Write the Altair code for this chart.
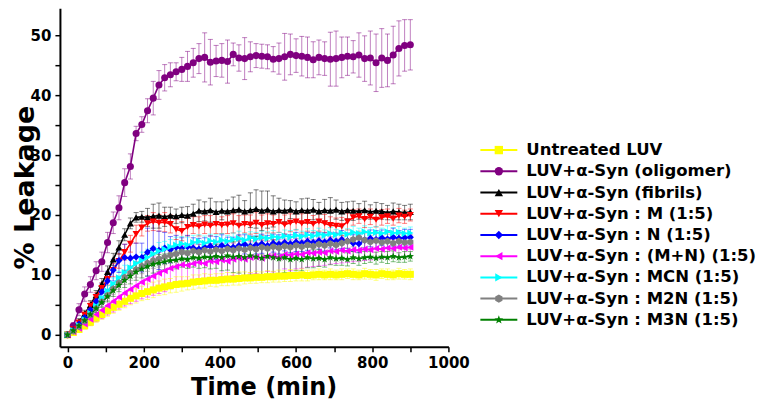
import altair as alt
import pandas as pd

# ---------------- data ----------------
times = list(range(0, 901, 15))

series_names = [
    "Untreated LUV",
    "LUV+α-Syn (oligomer)",
    "LUV+α-Syn (fibrils)",
    "LUV+α-Syn : M (1:5)",
    "LUV+α-Syn : N (1:5)",
    "LUV+α-Syn : (M+N) (1:5)",
    "LUV+α-Syn : MCN (1:5)",
    "LUV+α-Syn : M2N (1:5)",
    "LUV+α-Syn : M3N (1:5)",
]

untreated = [0.0, 0.4, 0.9, 1.5, 2.1, 2.8, 3.4, 4.0, 4.6, 5.1,
             5.6, 6.1, 6.5, 6.9, 7.2, 7.5, 7.8, 8.0, 8.2, 8.4,
             8.5, 8.6, 8.8, 8.9, 9.0, 9.1, 9.1, 9.2, 9.3, 9.3,
             9.4, 9.5, 9.5, 9.6, 9.6, 9.7, 9.7, 9.8, 9.8, 9.9,
             9.9, 10.0, 9.9, 10.0, 10.1, 10.0, 10.1, 10.0, 10.1, 10.2,
             10.1, 10.0, 10.2, 10.1, 10.0, 10.2, 10.1, 10.0, 10.2, 10.1,
             10.1]
untreated_err = [0.2, 0.3, 0.4, 0.5, 0.6, 0.7, 0.8, 0.9, 1.0, 1.0,
                 1.1, 1.1, 1.2, 1.2, 1.3, 1.3, 1.2, 1.3, 1.2, 1.3,
                 1.2, 1.1, 1.2, 1.1, 1.2, 1.0, 1.1, 1.0, 1.1, 1.0,
                 1.1, 1.0, 0.9, 1.0, 0.9, 1.0, 0.9, 1.0, 0.9, 1.0,
                 0.9, 1.0, 0.9, 0.8, 0.9, 0.8, 0.9, 0.8, 0.9, 0.8,
                 0.9, 0.8, 0.9, 0.8, 0.9, 0.8, 0.9, 0.8, 0.9, 0.8,
                 0.9]

oligomer = [0.0, 1.5, 4.2, 6.8, 8.4, 10.7, 12.2, 15.4, 18.7, 21.2,
            25.4, 28.1, 33.6, 35.1, 37.4, 39.5, 41.7, 42.9, 43.4, 43.9,
            44.3, 44.8, 45.4, 46.1, 46.3, 45.5, 45.7, 45.8, 45.6, 46.8,
            46.2, 46.1, 46.4, 46.6, 46.5, 46.4, 46.0, 46.1, 46.4, 46.8,
            46.6, 46.5, 46.3, 45.9, 46.3, 46.1, 46.0, 46.1, 46.3, 46.5,
            46.4, 46.7, 46.1, 46.2, 45.4, 46.2, 45.8, 46.7, 47.8, 48.3,
            48.4]
oligomer_err = [0.3, 0.5, 1.0, 1.2, 1.3, 1.5, 1.6, 1.7, 1.8, 2.0,
                2.3, 2.1, 1.2, 1.3, 2.0, 2.8, 2.4, 2.2, 2.0, 1.5,
                2.0, 2.5, 2.4, 2.5, 4.1, 3.8, 2.6, 2.8, 3.6, 1.9,
                2.2, 3.5, 2.5, 2.0, 2.0, 2.0, 2.1, 2.6, 3.9, 3.4,
                2.8, 3.3, 3.4, 3.0, 2.9, 2.8, 4.5, 4.6, 3.4, 3.2,
                2.7, 3.7, 3.8, 4.5, 4.8, 4.9, 4.4, 4.8, 4.6, 4.3,
                4.2]

fibrils = [0.0, 1.0, 2.2, 3.5, 5.0, 6.6, 8.5, 10.5, 12.6, 14.6,
           16.7, 18.6, 19.6, 19.7, 19.6, 19.8, 19.9, 19.7, 19.9, 19.8,
           20.0, 19.9, 20.2, 20.7, 20.6, 20.8, 20.5, 20.7, 20.6, 20.8,
           20.9, 20.6, 20.8, 21.0, 20.7, 20.9, 20.6, 20.8, 20.7, 20.9,
           20.6, 20.8, 20.7, 20.9, 20.6, 20.8, 20.7, 20.9, 20.6, 20.8,
           20.7, 20.6, 20.8, 20.5, 20.7, 20.6, 20.4, 20.6, 20.5, 20.4,
           20.5]
fibrils_err = [0.2, 0.4, 0.5, 0.6, 0.7, 0.8, 0.9, 1.0, 1.0, 1.1,
               1.0, 0.9, 0.8, 0.9, 1.5, 2.0, 2.1, 1.6, 1.4, 1.2,
               1.3, 1.5, 1.6, 1.8, 1.6, 2.0, 1.7, 1.5, 1.9, 2.2,
               2.4, 1.8, 2.9, 3.2, 3.3, 3.1, 2.6, 2.0, 1.8, 1.5,
               1.6, 1.9, 2.1, 1.7, 1.5, 1.8, 2.2, 1.6, 1.5, 1.4,
               1.6, 1.3, 1.5, 1.2, 1.4, 1.3, 1.2, 1.4, 1.3, 1.2,
               1.3]

m_15 = [0.0, 0.9, 2.0, 3.3, 4.8, 6.3, 7.8, 9.3, 10.8, 12.3,
        13.8, 15.2, 16.8, 17.9, 18.6, 18.9, 18.7, 18.8, 18.5, 17.6,
        17.3, 18.0, 18.3, 18.1, 18.4, 18.2, 18.5, 18.3, 18.4, 18.6,
        18.2, 18.5, 18.4, 18.7, 18.3, 18.6, 18.5, 18.8, 18.4, 18.7,
        18.9, 18.6, 18.8, 18.5, 18.9, 18.6, 18.3, 18.2, 18.1, 18.9,
        19.6, 19.8, 19.3, 19.7, 19.2, 19.6, 19.8, 19.4, 19.9, 19.7,
        20.0]
m_15_err = [0.2, 0.3, 0.5, 0.6, 0.7, 0.8, 0.9, 1.0, 1.1, 1.2,
            1.3, 1.4, 1.5, 1.4, 1.3, 1.5, 1.4, 1.6, 1.5, 1.7,
            1.6, 1.5, 1.4, 1.6, 1.5, 1.7, 1.6, 1.4, 1.5, 1.6,
            1.7, 1.5, 1.6, 1.8, 1.7, 1.6, 1.5, 1.7, 1.6, 1.5,
            1.4, 1.6, 1.5, 1.4, 1.6, 1.5, 1.4, 1.3, 1.5, 1.4,
            1.3, 1.2, 1.4, 1.3, 1.2, 1.3, 1.2, 1.1, 1.2, 1.1,
            1.0]

n_15 = [0.0, 0.8, 1.8, 2.9, 4.2, 5.6, 7.2, 9.0, 10.8, 12.4,
        12.9, 12.8, 13.0, 12.9, 13.8, 14.4, 14.1, 14.5, 14.2, 14.6,
        14.4, 14.7, 14.5, 14.3, 14.6, 14.8, 14.5, 14.9, 14.7, 14.6,
        14.9, 15.1, 14.8, 15.0, 15.2, 14.9, 15.3, 15.1, 15.4, 15.2,
        15.5, 15.3, 15.6, 15.4, 15.7, 15.5, 15.8, 15.6, 15.9, 15.7,
        15.3, 15.2, 15.8, 16.1, 15.9, 16.2, 16.0, 16.3, 16.1, 16.2,
        16.3]
n_15_err = [0.2, 0.4, 0.6, 0.8, 1.0, 1.2, 1.4, 1.6, 1.8, 2.0,
            2.2, 2.5, 2.3, 2.4, 4.0, 4.5, 3.2, 2.6, 2.2, 2.0,
            1.8, 1.9, 1.7, 1.8, 1.6, 1.7, 1.9, 1.8, 1.6, 1.7,
            1.8, 1.6, 1.7, 1.5, 1.6, 1.7, 1.5, 1.6, 1.4, 1.5,
            1.6, 1.4, 1.5, 1.6, 1.4, 1.5, 1.3, 1.4, 1.5, 1.3,
            1.4, 1.5, 1.3, 1.4, 1.5, 1.3, 1.4, 1.5, 1.3, 1.4,
            1.3]

mn_15 = [0.0, 0.5, 1.1, 1.8, 2.6, 3.4, 4.1, 4.9, 5.6, 6.3,
         7.0, 7.6, 8.2, 8.8, 9.3, 9.8, 10.3, 10.7, 11.1, 11.4,
         11.7, 11.6, 11.9, 12.1, 11.9, 12.3, 12.2, 12.5, 12.3, 12.6,
         12.8, 12.6, 12.9, 13.0, 12.8, 13.1, 13.2, 13.0, 13.4, 13.3,
         13.5, 13.4, 13.7, 13.6, 13.8, 13.7, 14.0, 13.9, 14.1, 14.0,
         14.2, 14.1, 14.3, 14.2, 14.4, 14.3, 14.5, 14.4, 14.6, 14.5,
         14.6]
mn_15_err = [0.2, 0.4, 0.6, 0.8, 1.0, 1.2, 1.4, 1.6, 1.8, 2.0,
             2.2, 2.4, 2.6, 2.8, 3.0, 3.2, 3.4, 3.5, 3.4, 3.3,
             3.2, 3.4, 3.1, 3.0, 3.3, 2.9, 3.1, 2.8, 3.0, 2.7,
             2.9, 3.2, 2.6, 2.8, 3.0, 2.5, 2.7, 2.9, 2.4, 2.6,
             2.5, 2.3, 2.4, 2.2, 2.3, 2.1, 2.2, 2.0, 2.1, 1.9,
             2.0, 1.8, 1.9, 1.7, 1.8, 1.6, 1.7, 1.5, 1.6, 1.5,
             1.5]

mcn_15 = [0.0, 0.7, 1.5, 2.5, 3.6, 4.8, 6.1, 7.3, 8.5, 9.5,
          10.4, 11.2, 11.9, 12.4, 12.9, 13.5, 14.0, 14.3, 14.7, 15.0,
          15.2, 15.0, 15.4, 15.6, 15.3, 15.7, 15.5, 15.8, 15.6, 15.9,
          16.1, 15.8, 16.2, 16.0, 16.3, 16.1, 16.4, 16.2, 16.5, 16.3,
          16.6, 16.4, 16.7, 16.5, 16.8, 16.6, 16.9, 16.7, 17.0, 16.8,
          17.1, 16.9, 17.2, 17.0, 17.1, 16.9, 17.2, 17.0, 17.1, 16.9,
          17.0]
mcn_15_err = [0.2, 0.3, 0.4, 0.5, 0.6, 0.7, 0.8, 0.9, 1.0, 1.1,
              1.2, 1.3, 1.3, 1.4, 1.4, 1.3, 1.4, 1.3, 1.2, 1.3,
              1.2, 1.3, 1.2, 1.1, 1.2, 1.1, 1.2, 1.1, 1.0, 1.1,
              1.2, 1.1, 1.0, 1.1, 1.0, 1.1, 1.0, 0.9, 1.0, 1.1,
              1.0, 0.9, 1.0, 0.9, 1.0, 0.9, 1.0, 0.9, 1.0, 0.9,
              1.0, 0.9, 1.0, 0.9, 1.0, 0.9, 1.0, 0.9, 1.0, 0.9,
              1.0]

m2n_15 = [0.0, 0.6, 1.4, 2.3, 3.3, 4.4, 5.5, 6.6, 7.7, 8.7,
          9.6, 10.3, 10.9, 11.5, 12.0, 12.4, 12.7, 13.0, 13.3, 13.5,
          13.8, 13.6, 14.0, 13.8, 14.1, 13.9, 14.2, 14.0, 14.3, 14.1,
          14.4, 14.2, 14.5, 14.3, 14.6, 14.4, 14.7, 14.5, 14.8, 14.6,
          14.9, 14.7, 15.0, 14.8, 15.1, 14.9, 15.2, 15.0, 15.3, 15.6,
          15.9, 16.2, 15.8, 15.5, 15.7, 15.4, 15.6, 15.3, 15.6, 15.4,
          15.5]
m2n_15_err = [0.2, 0.3, 0.4, 0.5, 0.6, 0.7, 0.8, 0.9, 1.0, 1.1,
              1.2, 1.2, 1.3, 1.3, 1.4, 1.3, 1.4, 1.3, 1.2, 1.3,
              1.4, 1.3, 1.2, 1.3, 1.2, 1.3, 1.2, 1.1, 1.2, 1.3,
              1.2, 1.1, 1.2, 1.1, 1.2, 1.3, 1.2, 1.1, 1.2, 1.1,
              1.2, 1.1, 1.2, 1.1, 1.2, 1.1, 1.2, 1.1, 1.2, 1.1,
              1.2, 1.1, 1.2, 1.1, 1.2, 1.1, 1.2, 1.1, 1.2, 1.1,
              1.2]

m3n_15 = [0.0, 0.7, 1.5, 2.4, 3.4, 4.4, 5.4, 6.4, 7.4, 8.3,
          9.1, 9.8, 10.5, 11.0, 11.4, 11.8, 12.0, 12.2, 12.4, 12.5,
          12.7, 12.6, 12.9, 12.8, 13.0, 12.9, 13.1, 12.9, 13.2, 13.0,
          13.1, 12.9, 13.2, 13.0, 12.8, 13.1, 12.9, 12.7, 12.9, 12.6,
          12.8, 12.6, 12.9, 12.7, 12.8, 12.6, 12.9, 12.7, 12.8, 12.6,
          12.9, 12.7, 12.9, 13.0, 12.8, 13.0, 12.9, 13.1, 12.9, 13.0,
          13.1]
m3n_15_err = [0.2, 0.3, 0.4, 0.5, 0.6, 0.7, 0.8, 0.9, 1.0, 1.1,
              1.2, 1.3, 1.4, 1.5, 1.6, 1.5, 1.4, 1.3, 1.4, 1.5,
              1.4, 1.5, 1.6, 1.7, 1.8, 1.9, 2.0, 2.2, 2.4, 2.6,
              2.8, 3.0, 3.2, 3.4, 3.3, 3.1, 2.9, 2.7, 2.5, 2.3,
              2.1, 1.9, 1.7, 1.5, 1.4, 1.3, 1.2, 1.1, 1.2, 1.1,
              1.0, 1.1, 1.0, 0.9, 1.0, 0.9, 1.0, 0.9, 0.8, 0.9,
              0.8]

values = [untreated, oligomer, fibrils, m_15, n_15, mn_15, mcn_15, m2n_15, m3n_15]
errors = [untreated_err, oligomer_err, fibrils_err, m_15_err, n_15_err,
          mn_15_err, mcn_15_err, m2n_15_err, m3n_15_err]

colors = ["#FFFF00", "#800080", "#000000", "#FF0000", "#0000FF",
          "#FF00FF", "#00FFFF", "#808080", "#008000"]
HEX = "M0,-1L0.866,-0.5L0.866,0.5L0,1L-0.866,0.5L-0.866,-0.5Z"
STAR = ("M0,-1.1L0.26,-0.36L1.05,-0.34L0.42,0.14L0.65,0.89L0,0.44"
        "L-0.65,0.89L-0.42,0.14L-1.05,-0.34L-0.26,-0.36Z")
shapes = ["square", "circle", "triangle-up", "triangle-down", "diamond",
          "triangle-left", "triangle-right", HEX, STAR]

rows = []
for name, vals, errs in zip(series_names, values, errors):
    for t, v, e in zip(times, vals, errs):
        rows.append({"series": name, "t": t, "v": v, "lo": v - e, "hi": v + e})
df = pd.DataFrame(rows)
legdf = pd.DataFrame({"series": series_names})

# ---------------- scales / axes ----------------
FONT = "DejaVu Sans"
xs = alt.Scale(domain=[-20, 1000], nice=False, zero=False)
ys = alt.Scale(domain=[-2, 54.5], nice=False, zero=False)
cs = alt.Scale(domain=series_names, range=colors)
ss = alt.Scale(domain=series_names, range=shapes)

xaxis = alt.Axis(
    title="Time (min)", values=list(range(0, 1001, 100)), format="d",
    labelExpr="datum.value % 200 == 0 ? datum.label : ''",
    grid=False, tickSize=5, tickWidth=1.5, tickColor="black",
    domainWidth=2, domainColor="black", labelFlush=False, labelOverlap=False,
    labelFont=FONT, labelFontWeight="bold", labelFontSize=15, labelColor="black",
    labelPadding=4, titleFont=FONT, titleFontSize=24, titleFontWeight="bold",
    titleColor="black", titlePadding=5, titleX=204,
)
yaxis = alt.Axis(
    title="% Leakage", values=list(range(0, 51, 5)),
    labelExpr="datum.value % 10 == 0 ? datum.label : ''",
    grid=False, tickSize=5, tickWidth=1.5, tickColor="black",
    domainWidth=2, domainColor="black", labelFlush=False, labelOverlap=False,
    labelFont=FONT, labelFontWeight="bold", labelFontSize=15, labelColor="black",
    labelPadding=4, titleFont=FONT, titleFontSize=27, titleFontWeight="bold",
    titleColor="black", titleX=-26, titleY=179, titleBaseline="alphabetic",
    titleAlign="center", titleAngle=270,
)

X = alt.X("t:Q", scale=xs, axis=xaxis)
color = alt.Color("series:N", scale=cs, legend=None)
shape = alt.Shape("series:N", scale=ss, legend=None)

base = alt.Chart(df)
err_rule = base.mark_rule(strokeWidth=1, opacity=0.5).encode(
    x=X, y=alt.Y("lo:Q", scale=ys, axis=yaxis), y2="hi:Q", color=color)
cap_lo = base.mark_tick(orient="horizontal", size=5, thickness=1, opacity=0.5).encode(
    x=X, y=alt.Y("lo:Q", scale=ys, axis=yaxis), color=color)
cap_hi = base.mark_tick(orient="horizontal", size=5, thickness=1, opacity=0.5).encode(
    x=X, y=alt.Y("hi:Q", scale=ys, axis=yaxis), color=color)
lines = base.mark_line(strokeWidth=1.6).encode(
    x=X, y=alt.Y("v:Q", scale=ys, axis=yaxis), color=color)
points = base.mark_point(filled=True, size=50, opacity=1).encode(
    x=X, y=alt.Y("v:Q", scale=ys, axis=yaxis), color=color, shape=shape)

main = alt.layer(err_rule, cap_lo, cap_hi, lines, points)

# ---------------- legend (drawn beside the plot) ----------------
ly = alt.Y("series:N", scale=alt.Scale(type="point", domain=series_names,
                                       range=[142, 312], padding=0), axis=None)
leg = alt.Chart(legdf)
leg_line = leg.mark_rule(strokeWidth=2).encode(
    x=alt.value(421), x2=alt.value(458), y=ly, color=color)
leg_pt = leg.mark_point(filled=True, size=70, opacity=1).encode(
    x=alt.value(439.5), y=ly, color=color, shape=shape)
leg_txt = leg.mark_text(align="left", baseline="middle", font=FONT,
                        fontWeight="bold", fontSize=16.5, color="black").encode(
    x=alt.value(467), y=ly, text="series:N")
legend = alt.layer(leg_line, leg_pt, leg_txt)

chart = (
    alt.layer(main, legend)
    .resolve_scale(y="independent")
    .properties(width=389, height=339,
                padding={"left": 4, "top": 0, "right": 0, "bottom": 0})
    .configure_view(stroke=None)
)

chart.save("out.html", embed_options={"renderer": "svg", "actions": False})
